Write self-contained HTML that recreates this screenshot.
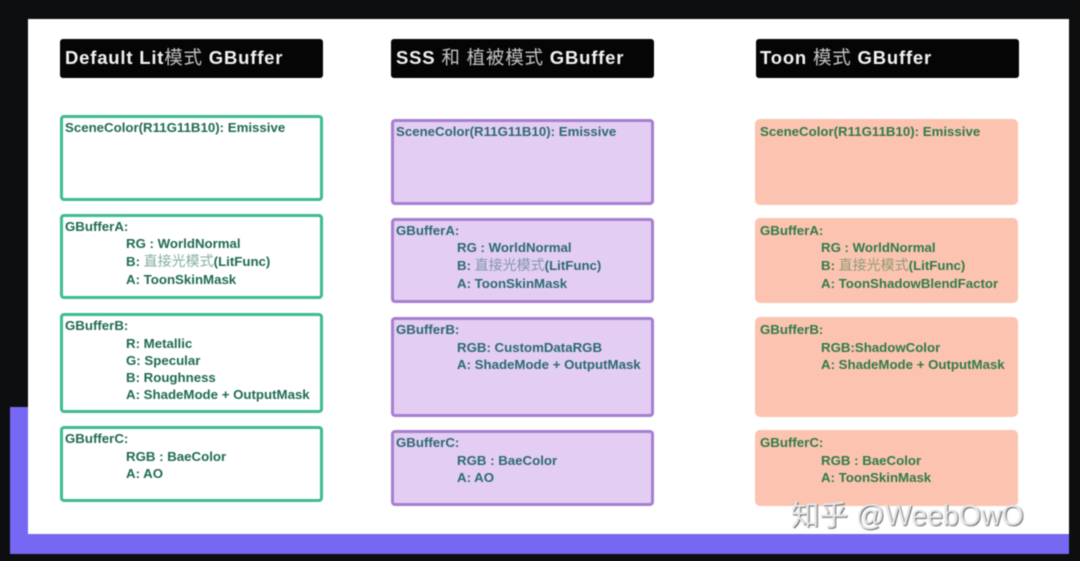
<!DOCTYPE html>
<html><head><meta charset="utf-8">
<style>
html,body{margin:0;padding:0;background:#0d0e10;}
#s{position:relative;width:1080px;height:561px;overflow:hidden;background:#0d0e10;font-family:"Liberation Sans","Noto Sans CJK SC",sans-serif;filter:blur(.45px);}
#s div{position:absolute;box-sizing:border-box;}
.h{background:#050505;border-radius:3px;height:39px;top:39px;width:263px;}
.h span{position:absolute;left:5px;top:8px;color:#f2f2f2;font-weight:bold;font-size:18.5px;letter-spacing:.8px;line-height:22px;white-space:pre;}
.h i{font-style:normal;font-weight:normal;color:#c4c4c4;}
.b{width:263px;border-radius:4px;}
.g{border:3px solid #3dbb94;background:#fff;}
.p{border:3px solid #a57fd0;background:#e4cdf3;}
.o{background:#fcc4b0;border-radius:5px;}
.t{font-weight:bold;font-size:13.25px;line-height:17px;white-space:pre;}
.t i{font-style:normal;font-weight:normal;font-size:14px;opacity:.55;}
.w{color:#e6e6e6;font-size:28.5px;line-height:34px;white-space:pre;text-shadow:1px 1px 1px #666;}
</style></head><body>
<div id="s">
<div style="left:10px;top:407px;width:1059px;height:147px;background:#7668f2"></div>
<div style="left:28px;top:19px;width:1041px;height:515px;background:#fff"></div>

<div class="h" style="left:60px"><span>Default Lit<i>模式</i> GBuffer</span></div>
<div class="h" style="left:391px"><span>SSS <i>和 植被模式</i> GBuffer</span></div>
<div class="h" style="left:756px"><span style="left:4px">Toon <i>模式</i> GBuffer</span></div>

<div class="b g" style="left:60px;top:115px;height:86px"></div>
<div class="b g" style="left:60px;top:214px;height:85px"></div>
<div class="b g" style="left:60px;top:313px;height:100px"></div>
<div class="b g" style="left:60px;top:426px;height:76px"></div>

<div class="b p" style="left:391px;top:119px;height:86px"></div>
<div class="b p" style="left:391px;top:218px;height:85px"></div>
<div class="b p" style="left:391px;top:317px;height:100px"></div>
<div class="b p" style="left:391px;top:430px;height:76px"></div>

<div class="b o" style="left:755px;top:119px;height:86px"></div>
<div class="b o" style="left:755px;top:218px;height:85px"></div>
<div class="b o" style="left:755px;top:317px;height:100px"></div>
<div class="b o" style="left:755px;top:430px;height:76px"></div>

<div class="t" style="left:65px;top:119px;color:#1f6a55">SceneColor(R11G11B10): Emissive</div>
<div class="t" style="left:65px;top:218px;color:#1f6a55">GBufferA:</div>
<div class="t" style="left:126px;top:235px;color:#1f6a55">RG : WorldNormal</div>
<div class="t" style="left:126px;top:253px;color:#1f6a55">B: <i>直接光模式</i>(LitFunc)</div>
<div class="t" style="left:126px;top:271px;color:#1f6a55">A: ToonSkinMask</div>
<div class="t" style="left:65px;top:317px;color:#1f6a55">GBufferB:</div>
<div class="t" style="left:126px;top:335px;color:#1f6a55">R: Metallic</div>
<div class="t" style="left:126px;top:352px;color:#1f6a55">G: Specular</div>
<div class="t" style="left:126px;top:369px;color:#1f6a55">B: Roughness</div>
<div class="t" style="left:126px;top:386px;color:#1f6a55">A: ShadeMode + OutputMask</div>
<div class="t" style="left:65px;top:430px;color:#1f6a55">GBufferC:</div>
<div class="t" style="left:126px;top:448px;color:#1f6a55">RGB : BaeColor</div>
<div class="t" style="left:126px;top:465px;color:#1f6a55">A: AO</div>

<div class="t" style="left:396px;top:123px;color:#2a6a70">SceneColor(R11G11B10): Emissive</div>
<div class="t" style="left:396px;top:222px;color:#2a6a70">GBufferA:</div>
<div class="t" style="left:457px;top:239px;color:#2a6a70">RG : WorldNormal</div>
<div class="t" style="left:457px;top:257px;color:#2a6a70">B: <i>直接光模式</i>(LitFunc)</div>
<div class="t" style="left:457px;top:275px;color:#2a6a70">A: ToonSkinMask</div>
<div class="t" style="left:396px;top:321px;color:#2a6a70">GBufferB:</div>
<div class="t" style="left:457px;top:339px;color:#2a6a70">RGB: CustomDataRGB</div>
<div class="t" style="left:457px;top:356px;color:#2a6a70">A: ShadeMode + OutputMask</div>
<div class="t" style="left:396px;top:434px;color:#2a6a70">GBufferC:</div>
<div class="t" style="left:457px;top:452px;color:#2a6a70">RGB : BaeColor</div>
<div class="t" style="left:457px;top:469px;color:#2a6a70">A: AO</div>

<div class="t" style="left:760px;top:123px;color:#2f7a4a">SceneColor(R11G11B10): Emissive</div>
<div class="t" style="left:760px;top:222px;color:#2f7a4a">GBufferA:</div>
<div class="t" style="left:821px;top:239px;color:#2f7a4a">RG : WorldNormal</div>
<div class="t" style="left:821px;top:257px;color:#2f7a4a">B: <i>直接光模式</i>(LitFunc)</div>
<div class="t" style="left:821px;top:275px;color:#2f7a4a">A: ToonShadowBlendFactor</div>
<div class="t" style="left:760px;top:321px;color:#2f7a4a">GBufferB:</div>
<div class="t" style="left:821px;top:339px;color:#2f7a4a">RGB:ShadowColor</div>
<div class="t" style="left:821px;top:356px;color:#2f7a4a">A: ShadeMode + OutputMask</div>
<div class="t" style="left:760px;top:434px;color:#2f7a4a">GBufferC:</div>
<div class="t" style="left:821px;top:452px;color:#2f7a4a">RGB : BaeColor</div>
<div class="t" style="left:821px;top:469px;color:#2f7a4a">A: ToonSkinMask</div>

<div class="w" style="left:791px;top:499px">知乎 @WeebOwO</div>
</div>
</body></html>
